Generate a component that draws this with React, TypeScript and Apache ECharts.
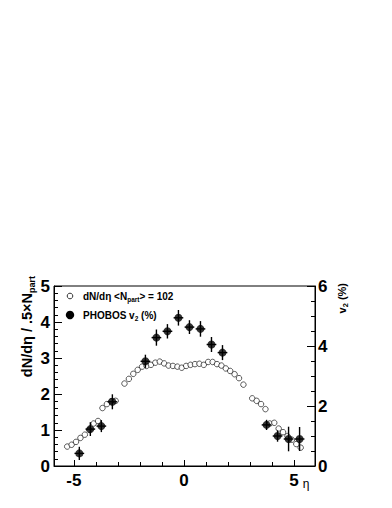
import React, { useEffect, useRef } from "react";
import * as echarts from "echarts";

// dN/deta / (0.5 Npart), open circles (left axis)
const etaDn = [
  -5.3, -5.1, -4.9, -4.7, -4.5, -4.3, -4.1, -3.9, -3.7, -3.5, -3.3, -3.1,
  -2.7, -2.5, -2.3, -2.1, -1.9, -1.7, -1.5, -1.3, -1.1, -0.9, -0.7, -0.5, -0.3, -0.1,
  0.1, 0.3, 0.5, 0.7, 0.9, 1.1, 1.3, 1.5, 1.7, 1.9, 2.1, 2.3, 2.5, 2.7,
  3.1, 3.3, 3.5, 3.7, 3.9, 4.1, 4.3, 4.5, 4.7, 4.9, 5.1, 5.3,
];
const dnValues = [
  0.54, 0.59, 0.67, 0.78, 0.87, 1.0, 1.18, 1.25, 1.61, 1.72, 1.8, 1.81,
  2.29, 2.42, 2.56, 2.67, 2.76, 2.78, 2.81, 2.87, 2.9, 2.85, 2.79, 2.78, 2.76, 2.73,
  2.78, 2.81, 2.83, 2.84, 2.81, 2.89, 2.89, 2.83, 2.79, 2.71, 2.64, 2.55, 2.44, 2.26,
  1.88, 1.81, 1.72, 1.58, 1.18, 1.2, 1.04, 0.94, 0.83, 0.73, 0.61, 0.51,
];

// PHOBOS v2 (%) filled circles (right axis)
const etaV2 = [-4.75, -4.25, -3.75, -3.25, -1.75, -1.25, -0.75, -0.25, 0.25, 0.75, 1.25, 1.75, 3.75, 4.25, 4.75, 5.25];
const v2Values = [0.42, 1.23, 1.33, 2.14, 3.49, 4.28, 4.49, 4.94, 4.63, 4.57, 4.05, 3.78, 1.37, 1.0, 0.9, 0.9];
const v2Errors = [0.22, 0.23, 0.2, 0.25, 0.22, 0.27, 0.24, 0.26, 0.23, 0.26, 0.25, 0.25, 0.17, 0.19, 0.41, 0.4];
const v2EtaHalfWidth = [0.22, 0.22, 0.22, 0.22, 0.22, 0.22, 0.22, 0.22, 0.22, 0.22, 0.22, 0.22, 0.22, 0.22, 0.22, 0.22];

// axis ticks
const xMajorTicks = [-5, 0, 5];
const xMinorTicks = [-5, -4, -3, -2, -1, 0, 1, 2, 3, 4, 5];

const FONT = '"Liberation Sans", Arial, Helvetica, sans-serif';

export default function App() {
  const ref = useRef<HTMLDivElement>(null);
  useEffect(() => {
    if (!ref.current) return;
    const chart = echarts.init(ref.current, null, { renderer: "svg" });

    const dnData = etaDn.map((e, i) => [e, dnValues[i]]);
    const v2Data = etaV2.map((e, i) => [e, v2Values[i]]);
    const v2ErrData = etaV2.map((e, i) => [e, v2Values[i], v2Errors[i], v2EtaHalfWidth[i]]);

    const axisLineStyle = { show: true, onZero: false, lineStyle: { color: "#000", width: 1 } };
    const labelStyle = { color: "#000", fontSize: 17, fontWeight: "bold" as const, fontFamily: FONT };
    const rm = (size: number, lh: number) => ({ fontSize: size, fontWeight: "bold", fontFamily: FONT, fill: "#000", color: "#000", lineHeight: lh, verticalAlign: "middle" });
    const rs = (size: number, lh: number) => ({ fontSize: size, fontWeight: "bold", fontFamily: FONT, fill: "#000", color: "#000", lineHeight: lh, verticalAlign: "bottom" });

    chart.setOption({
      animation: false,
      backgroundColor: "#fff",
      grid: {
        left: 54,
        top: 286,
        width: 261,
        height: 180,
        show: true,
        borderColor: "#000",
        borderWidth: 1,
        backgroundColor: "transparent",
      },
      xAxis: [
        {
          type: "value",
          min: -5.9,
          max: 5.95,
          position: "bottom",
          axisLine: axisLineStyle,
          splitLine: { show: false },
          axisTick: { show: true, inside: true, length: 6, customValues: xMajorTicks, lineStyle: { color: "#000" } },
          axisLabel: { ...labelStyle, margin: 6, customValues: xMajorTicks },
        },
        {
          type: "value",
          min: -5.9,
          max: 5.95,
          position: "bottom",
          axisLine: { show: false, onZero: false },
          splitLine: { show: false },
          axisTick: { show: true, inside: true, length: 4, customValues: xMinorTicks, lineStyle: { color: "#000" } },
          axisLabel: { show: false },
        },
      ],
      yAxis: [
        {
          type: "value",
          min: 0,
          max: 5,
          interval: 1,
          position: "left",
          axisLine: axisLineStyle,
          splitLine: { show: false },
          axisTick: { show: true, inside: true, length: 8, lineStyle: { color: "#000" } },
          minorTick: { show: true, splitNumber: 5, length: 4, lineStyle: { color: "#000" } },
          axisLabel: { ...labelStyle, margin: 4 },
        },
        {
          type: "value",
          min: 0,
          max: 6,
          interval: 2,
          position: "right",
          axisLine: axisLineStyle,
          splitLine: { show: false },
          axisTick: { show: true, inside: true, length: 8, lineStyle: { color: "#000" } },
          minorTick: { show: true, splitNumber: 4, length: 4, lineStyle: { color: "#000" } },
          axisLabel: { ...labelStyle, margin: 3 },
        },
      ],
      series: [
        {
          type: "scatter",
          xAxisIndex: 0,
          yAxisIndex: 0,
          data: dnData,
          symbol: "circle",
          symbolSize: 5.5,
          itemStyle: { color: "#fff", borderColor: "#000", borderWidth: 0.8 },
          z: 2,
        },
        {
          type: "custom",
          xAxisIndex: 0,
          yAxisIndex: 1,
          data: v2ErrData,
          encode: { x: 0, y: 1 },
          z: 3,
          renderItem: (params: any, api: any) => {
            const x = api.value(0);
            const y = api.value(1);
            const e = api.value(2);
            const ex = api.value(3);
            const top = api.coord([x, y + e]);
            const bot = api.coord([x, y - e]);
            const l = api.coord([x - ex, y]);
            const r = api.coord([x + ex, y]);
            return {
              type: "group",
              children: [
                { type: "line", shape: { x1: top[0], y1: top[1], x2: bot[0], y2: bot[1] }, style: { stroke: "#000", lineWidth: 1.4 } },
                { type: "line", shape: { x1: l[0], y1: l[1], x2: r[0], y2: r[1] }, style: { stroke: "#000", lineWidth: 1.4 } },
              ],
            };
          },
        },
        {
          type: "scatter",
          xAxisIndex: 0,
          yAxisIndex: 1,
          data: v2Data,
          symbol: "circle",
          symbolSize: 8,
          itemStyle: { color: "#000" },
          z: 4,
        },
      ],
      graphic: [
        // legend
        { type: "circle", shape: { cx: 70, cy: 296, r: 2.8 }, style: { fill: "#fff", stroke: "#000", lineWidth: 0.8 } },
        {
          type: "text",
          x: 83,
          y: 296,
          style: {
            text: "{m|dN/dη <N}{s|part}{m|> = 102}",
            verticalAlign: "middle",
            fill: "#000",
            rich: { m: rm(10, 14), s: rs(6.5, 14) },
          },
        },
        { type: "circle", shape: { cx: 70, cy: 315, r: 4.2 }, style: { fill: "#000" } },
        {
          type: "text",
          x: 83,
          y: 315,
          style: {
            text: "{m|PHOBOS v}{s|2}{m| (%)}",
            verticalAlign: "middle",
            fill: "#000",
            rich: { m: rm(10, 14), s: rs(6.5, 14) },
          },
        },
        // left axis title
        {
          type: "text",
          x: 27,
          y: 276,
          rotation: Math.PI / 2,
          style: {
            text: "{m|dN/dη / .5×N}{s|part}",
            align: "right",
            verticalAlign: "middle",
            fill: "#000",
            rich: { m: rm(14.5, 18), s: rs(9, 18) },
          },
        },
        // right axis title
        {
          type: "text",
          x: 342,
          y: 283,
          rotation: Math.PI / 2,
          style: {
            text: "{m|v}{s|2}{m| (%)}",
            align: "right",
            verticalAlign: "middle",
            fill: "#000",
            rich: { m: rm(11, 15), s: rs(7.5, 15) },
          },
        },
        // eta label
        {
          type: "text",
          x: 306,
          y: 484,
          style: { text: "η", fontSize: 12, fontFamily: FONT, fill: "#000", align: "center", verticalAlign: "middle" },
        },
      ],
    });
    return () => chart.dispose();
  }, []);
  return <div ref={ref} style={{ position: "fixed", left: 0, top: 0, width: 392, height: 508, background: "#fff" }} />;
}
